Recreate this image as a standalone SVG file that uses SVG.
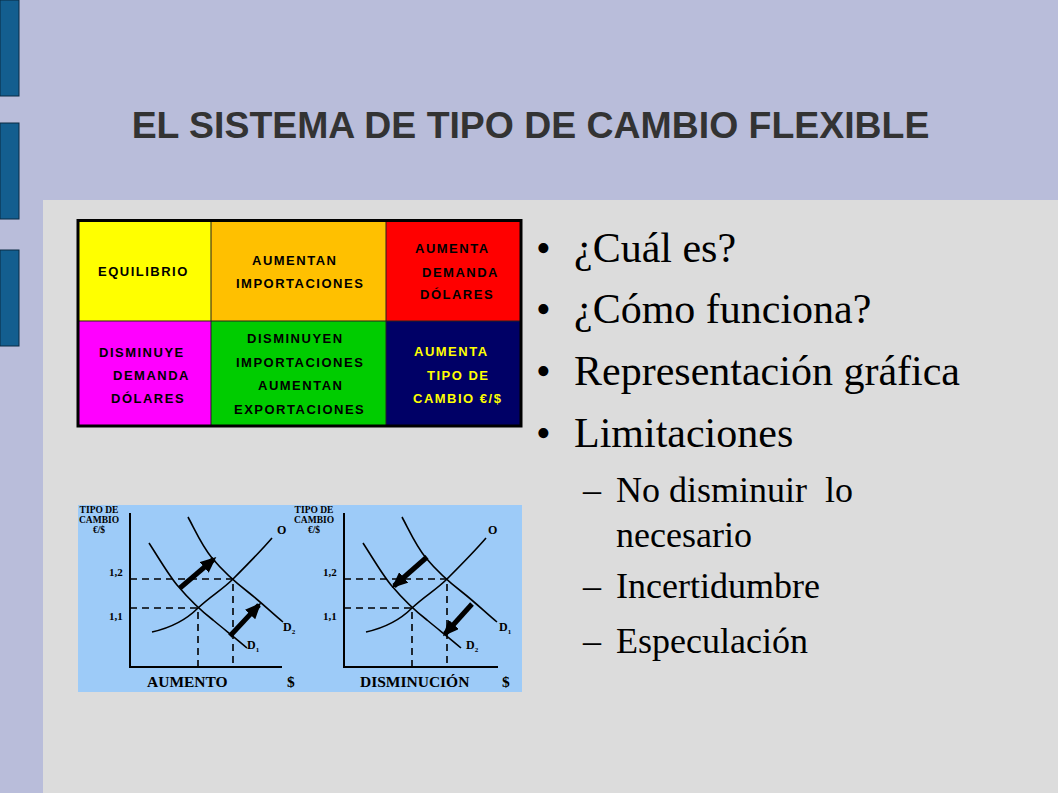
<svg xmlns="http://www.w3.org/2000/svg" width="1058" height="793" viewBox="0 0 1058 793">
<style>
.title{font-family:"Liberation Sans",Arial,sans-serif;font-weight:bold;font-size:37.4px;fill:#333333}
.cell{font-family:"Liberation Sans",Arial,sans-serif;font-weight:bold;font-size:13px;letter-spacing:1.5px;fill:#000}
.cellY{fill:#ffff00}
.bul{font-family:"Liberation Serif","Times New Roman",serif;font-size:42px;fill:#000}
.sub{font-family:"Liberation Serif","Times New Roman",serif;font-size:36px;fill:#000;white-space:pre}
.gl{font-family:"Liberation Serif","Times New Roman",serif;font-weight:bold;fill:#000}
.ax{stroke:#000;stroke-width:2;fill:none}
.cv{stroke:#000;stroke-width:1.6;fill:none}
.dash{stroke:#000;stroke-width:1.6;stroke-dasharray:7 5;fill:none}
.arr{stroke:#000;stroke-width:5;fill:none;marker-end:url(#ah)}
.bar{fill:#135e8f;stroke:#0b2b42;stroke-width:1}
</style>
<defs>
<marker id="ah" markerUnits="userSpaceOnUse" markerWidth="16" markerHeight="14" viewBox="0 0 16 14" refX="13" refY="7" orient="auto">
<path d="M0,0 L16,7 L0,14 z" fill="#000"/>
</marker>
</defs>
<rect width="1058" height="793" fill="#b9bdda"/>
<rect x="43" y="200" width="1015" height="593" fill="#dcdcdc"/>
<rect class="bar" x="0" y="0" width="19" height="96"/>
<rect class="bar" x="0" y="123" width="19" height="96"/>
<rect class="bar" x="0" y="250" width="19" height="96"/>
<text class="title" x="530.5" y="138" text-anchor="middle">EL SISTEMA DE TIPO DE CAMBIO FLEXIBLE</text>

<g id="table">
<g id="cell-equilibrio"><rect x="78" y="220" width="133" height="101" fill="#ffff00"/>
<text class="cell" x="98" y="276">EQUILIBRIO</text></g>
<g id="cell-aumentan-imp"><rect x="211" y="220" width="175" height="101" fill="#ffc000"/>
<text class="cell" x="252" y="265">AUMENTAN</text><text class="cell" x="236" y="288">IMPORTACIONES</text></g>
<g id="cell-aumenta-dem"><rect x="386" y="220" width="135" height="101" fill="#ff0000"/>
<text class="cell" x="415" y="253">AUMENTA</text><text class="cell" x="422" y="277">DEMANDA</text><text class="cell" x="420" y="299">DÓLARES</text></g>
<g id="cell-disminuye"><rect x="78" y="321" width="133" height="105" fill="#ff00ff"/>
<text class="cell" x="99" y="357">DISMINUYE</text><text class="cell" x="113" y="380">DEMANDA</text><text class="cell" x="111" y="403">DÓLARES</text></g>
<g id="cell-disminuyen"><rect x="211" y="321" width="175" height="105" fill="#00cc00"/>
<text class="cell" x="247" y="343">DISMINUYEN</text><text class="cell" x="236" y="367">IMPORTACIONES</text><text class="cell" x="258" y="390">AUMENTAN</text><text class="cell" x="234" y="414">EXPORTACIONES</text></g>
<g id="cell-tipo"><rect x="386" y="321" width="135" height="105" fill="#000066"/>
<text class="cell cellY" x="414" y="356">AUMENTA</text><text class="cell cellY" x="427" y="380">TIPO DE</text><text class="cell cellY" x="413" y="403">CAMBIO €/$</text></g>
<g id="table-lines" stroke="#222" stroke-width="1" fill="none">
<line x1="211" y1="220" x2="211" y2="426"/><line x1="386" y1="220" x2="386" y2="426"/><line x1="78" y1="321" x2="521" y2="321"/>
</g>
<rect x="78" y="220.5" width="443" height="205.5" fill="none" stroke="#000" stroke-width="3"/>
</g>

<g id="bullets">
<text class="bul" x="536" y="262">•</text><text class="bul" x="574" y="262">¿Cuál es?</text>
<text class="bul" x="536" y="323">•</text><text class="bul" x="574" y="323">¿Cómo funciona?</text>
<text class="bul" x="536" y="385">•</text><text class="bul" x="574" y="385">Representación gráfica</text>
<text class="bul" x="536" y="447">•</text><text class="bul" x="574" y="447">Limitaciones</text>
<text class="sub" x="583" y="502">–</text><text class="sub" x="616" y="502">No disminuir  lo</text>
<text class="sub" x="616" y="547">necesario</text>
<text class="sub" x="583" y="598">–</text><text class="sub" x="616" y="598">Incertidumbre</text>
<text class="sub" x="583" y="653">–</text><text class="sub" x="616" y="653">Especulación</text>
</g>

<g id="graphs">
<rect x="78" y="505" width="444" height="187" fill="#9dcbf8"/>
<g id="graph-aumento">
<path class="ax" d="M130,513 V667 H282"/>
<path class="dash" d="M130,579 H233 V667 M130,608 H198 V667"/>
<path class="cv" d="M149,543 C160,560 168,574 177,585 C188,598 200,610 213,620 C225,630 238,640 247,648"/>
<path class="cv" d="M188,517 C196,532 202,546 212,558 C222,570 235,582 248,592 C262,603 273,614 283,622"/>
<path class="cv" d="M152,632 C170,628 186,620 198,608 C212,595 222,590 233,579 C248,564 260,552 272,538"/>
<text class="gl" font-size="9.5" x="99" y="513" text-anchor="middle">TIPO DE</text>
<text class="gl" font-size="9.5" x="99" y="523" text-anchor="middle">CAMBIO</text>
<text class="gl" font-size="9.5" x="99" y="533" text-anchor="middle">€/$</text>
<text class="gl" font-size="11" x="109" y="576">1,2</text>
<text class="gl" font-size="11" x="109" y="620">1,1</text>
<text class="gl" font-size="12" x="277" y="534">O</text>
<text class="gl" font-size="12" x="283" y="631">D<tspan font-size="7" dy="3">2</tspan></text>
<text class="gl" font-size="12" x="247" y="649">D<tspan font-size="7" dy="3">1</tspan></text>
<text class="gl" font-size="15.5" x="147" y="687">AUMENTO</text>
<text class="gl" font-size="15.5" x="287" y="687">$</text>
<g id="arrows-aumento">
<line class="arr" x1="180" y1="588" x2="214" y2="559"/>
<line class="arr" x1="230" y1="636" x2="259" y2="605"/>
</g>
</g>
<g id="graph-disminucion">
<path class="ax" d="M344,513 V667 H498"/>
<path class="dash" d="M344,579 H447 V667 M344,608 H412 V667"/>
<g transform="translate(214,0)">
<path class="cv" d="M149,543 C160,560 168,574 177,585 C188,598 200,610 213,620 C225,630 238,640 247,648"/>
<path class="cv" d="M188,517 C196,532 202,546 212,558 C222,570 235,582 248,592 C262,603 273,614 283,622"/>
<path class="cv" d="M152,632 C170,628 186,620 198,608 C212,595 222,590 233,579 C248,564 260,552 272,538"/>
</g>
<text class="gl" font-size="9.5" x="314" y="513" text-anchor="middle">TIPO DE</text>
<text class="gl" font-size="9.5" x="314" y="523" text-anchor="middle">CAMBIO</text>
<text class="gl" font-size="9.5" x="314" y="533" text-anchor="middle">€/$</text>
<text class="gl" font-size="11" x="323" y="576">1,2</text>
<text class="gl" font-size="11" x="323" y="620">1,1</text>
<text class="gl" font-size="12" x="488" y="534">O</text>
<text class="gl" font-size="12" x="499" y="631">D<tspan font-size="7" dy="3">1</tspan></text>
<text class="gl" font-size="12" x="466" y="649">D<tspan font-size="7" dy="3">2</tspan></text>
<text class="gl" font-size="15.5" x="360" y="687">DISMINUCIÓN</text>
<text class="gl" font-size="15.5" x="502" y="687">$</text>
<g id="arrows-disminucion">
<line class="arr" x1="427" y1="557" x2="394" y2="586"/>
<line class="arr" x1="472" y1="604" x2="445" y2="634"/>
</g>
</g>
</g>
</svg>
